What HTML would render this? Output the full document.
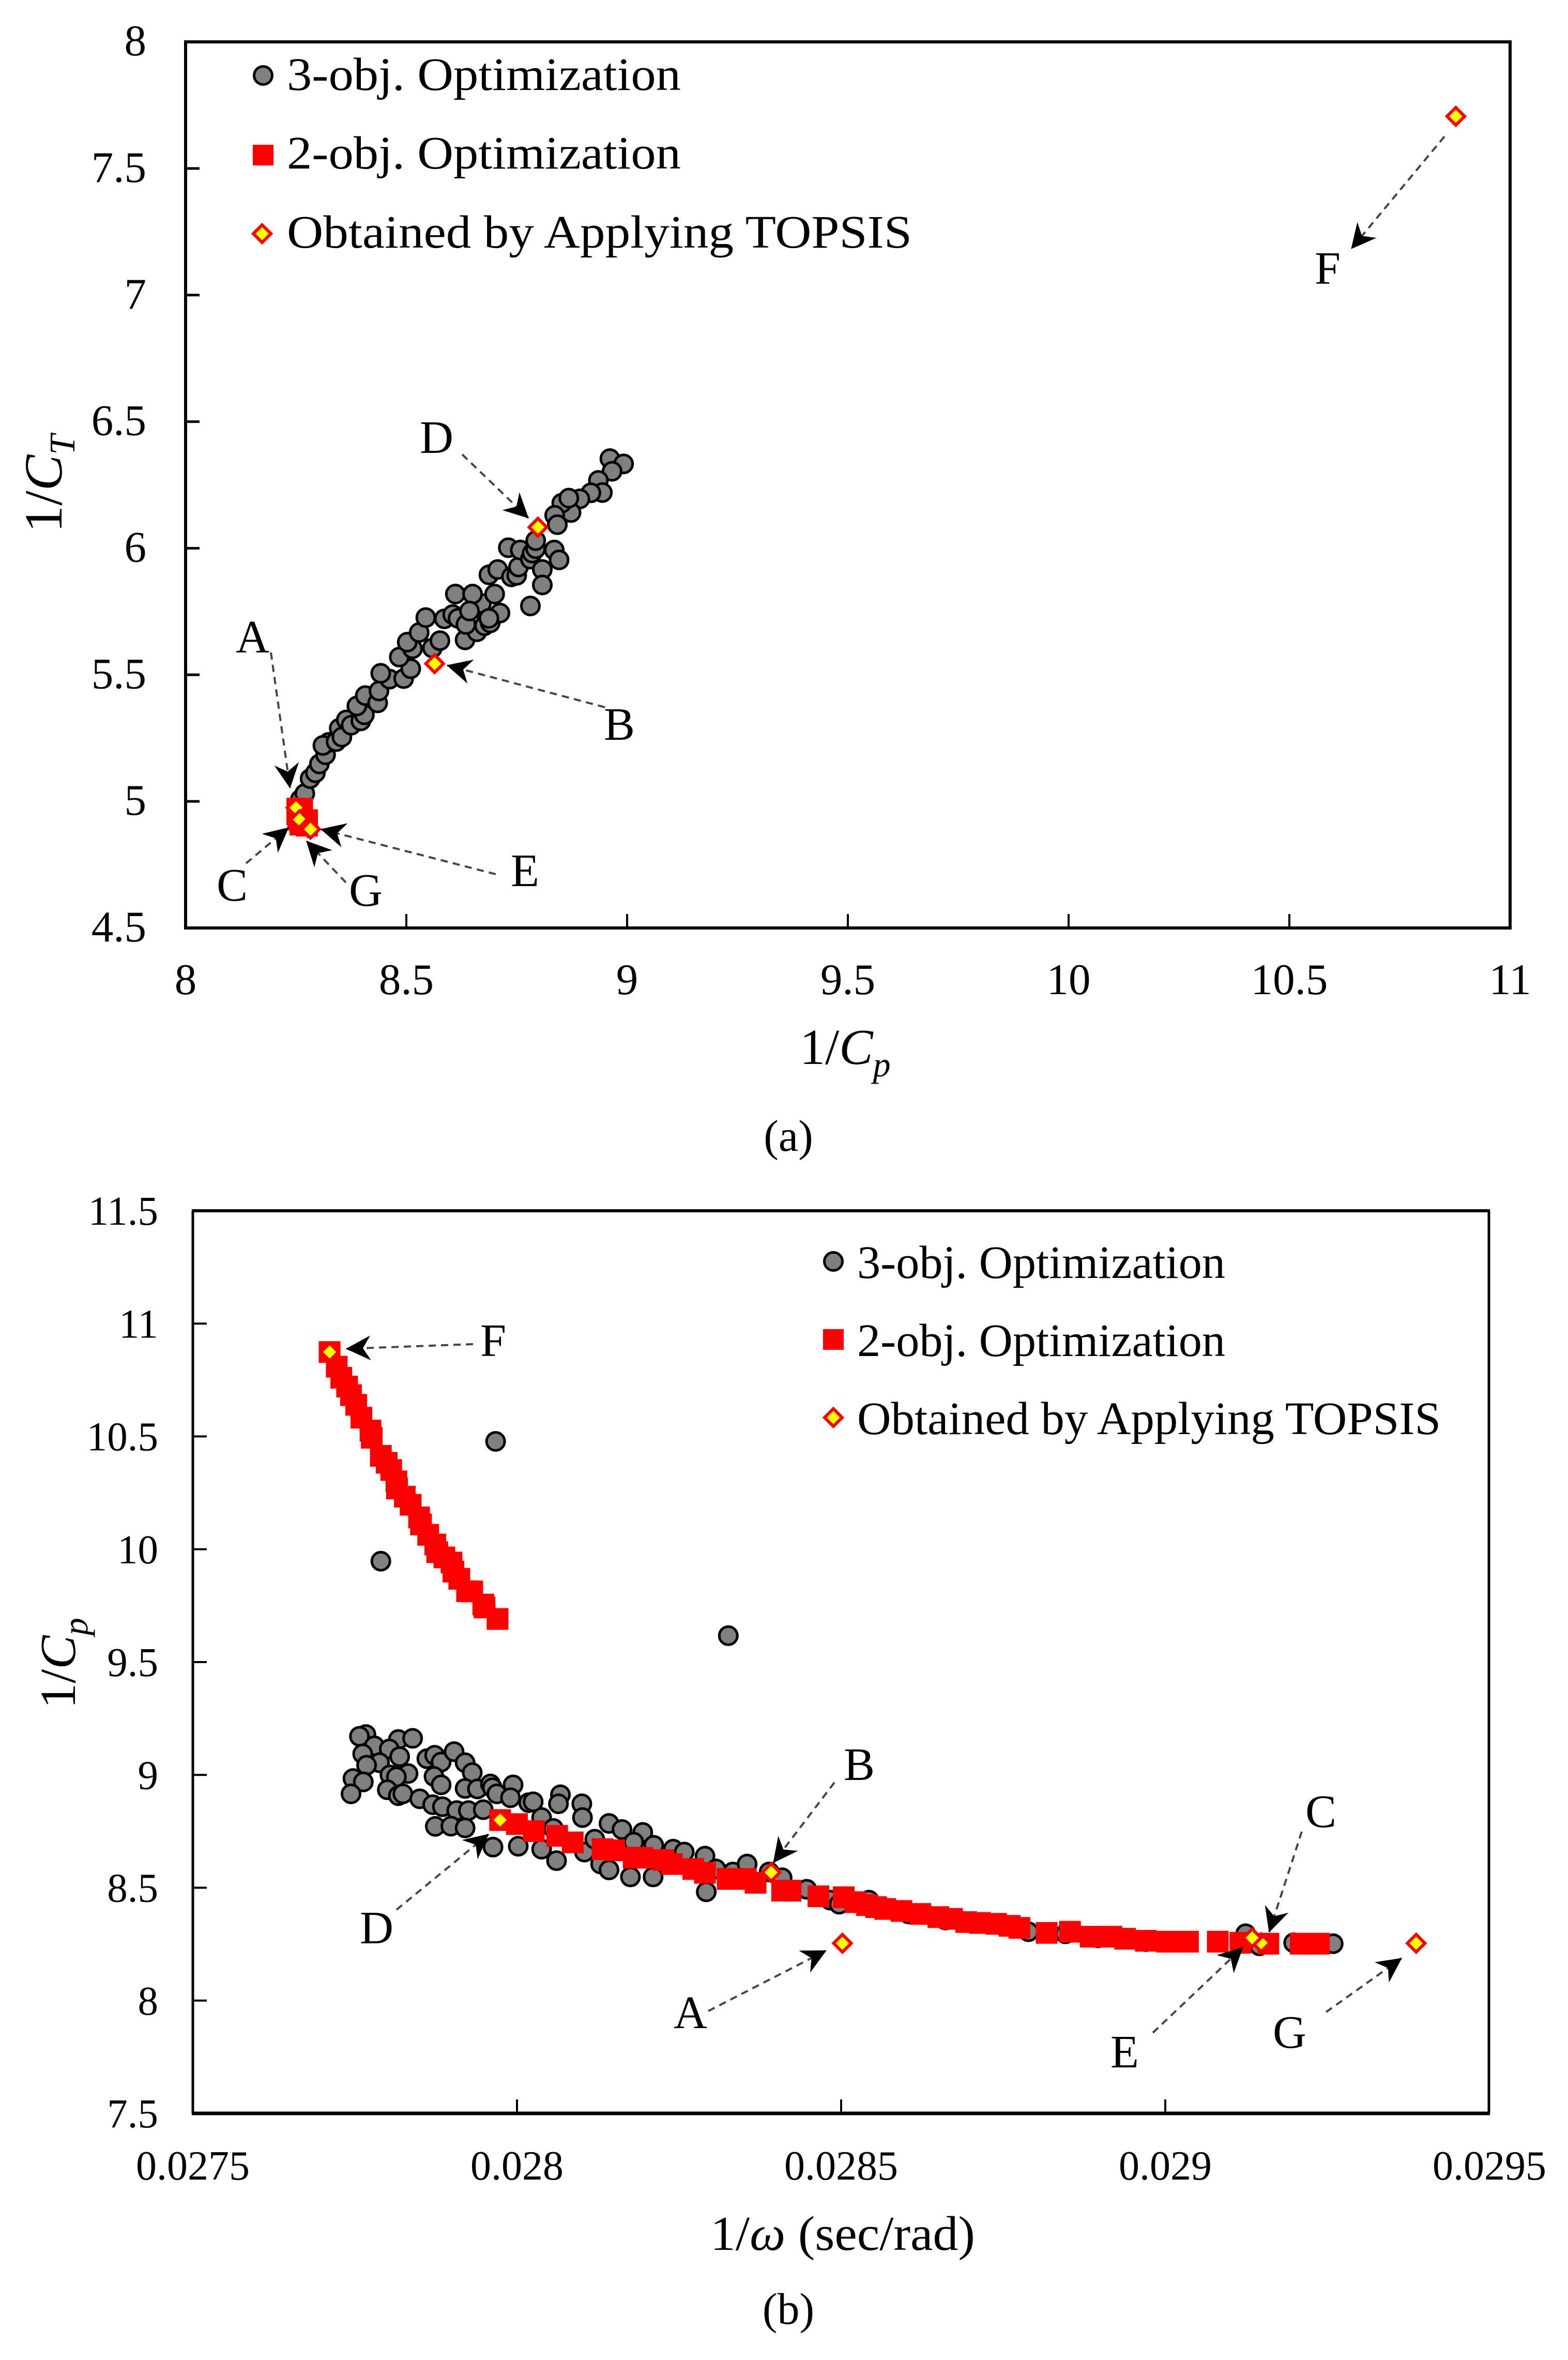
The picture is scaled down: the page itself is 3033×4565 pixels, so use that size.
<!DOCTYPE html>
<html lang="en">
<head>
<meta charset="utf-8">
<title>Pareto fronts: 3-obj and 2-obj optimization</title>
<style>
  html, body { margin: 0; padding: 0; background: #fff; }
  svg { display: block; }
  text { font-family: "Liberation Serif", serif; fill: #000; }
  .leader { stroke: #444; stroke-width: 4; stroke-dasharray: 14 10; fill: none; marker-end: url(#stealth); }
  .ann { font-size: 90px; }
  .legend { font-size: 90px; }
</style>
</head>
<body>
<svg id="figure" xmlns="http://www.w3.org/2000/svg" width="3033" height="4565" viewBox="0 0 3033 4565">
  <defs>
    <marker id="stealth" markerUnits="userSpaceOnUse" markerWidth="48" markerHeight="48" viewBox="0 0 48 48" refX="47" refY="24" orient="auto">
      <path d="M48,24 L0,0 L15,24 L0,48 Z" fill="#000"></path>
    </marker>
  </defs>
  <rect x="0" y="0" width="3033" height="4565" fill="#fff"></rect>

  <g id="chart-a">
    <rect x="359" y="81" width="2562" height="1714" fill="none" stroke="#000" stroke-width="6"></rect>
    <g id="a-ticks"></g>
    <g id="a-marks"></g>

    <g>
      <line class="leader" x1="524" y1="1262" x2="561" y2="1524"></line>
      <line class="leader" x1="894" y1="879" x2="1022" y2="1002"></line>
      <line class="leader" x1="1170" y1="1368" x2="865" y2="1287"></line>
      <line class="leader" x1="959" y1="1691" x2="621" y2="1604"></line>
      <line class="leader" x1="476" y1="1670" x2="558" y2="1601"></line>
      <line class="leader" x1="669" y1="1707" x2="593" y2="1627"></line>
      <line class="leader" x1="2794" y1="264" x2="2614" y2="481"></line>
      <text class="ann" x="456" y="1262">A</text>
      <text class="ann" x="812" y="876">D</text>
      <text class="ann" x="1168" y="1431">B</text>
      <text class="ann" x="988" y="1714">E</text>
      <text class="ann" x="419" y="1742">C</text>
      <text class="ann" x="675" y="1752">G</text>
      <text class="ann" x="2543" y="549">F</text>
    </g>

    <g>
      <circle cx="509" cy="146" r="17.5" fill="#808080" stroke="#000" stroke-width="5"></circle>
      <rect x="489" y="280" width="40" height="40" fill="#f00"></rect>
      <polygon points="507,435 524,452 507,469 490,452" fill="#ff0" stroke="#f00" stroke-width="6"></polygon>
      <text class="legend" x="555" y="174" textLength="762" lengthAdjust="spacingAndGlyphs">3-obj. Optimization</text>
      <text class="legend" x="555" y="326" textLength="762" lengthAdjust="spacingAndGlyphs">2-obj. Optimization</text>
      <text class="legend" x="555" y="479" textLength="1209" lengthAdjust="spacingAndGlyphs">Obtained by Applying TOPSIS</text>
    </g>

    <text transform="translate(119,1030) rotate(-90)" font-size="104">1/<tspan font-style="italic">C</tspan><tspan font-style="italic" font-size="70" dy="25">T</tspan></text>
    <text x="1547" y="2058" font-size="98">1/<tspan font-style="italic">C</tspan><tspan font-style="italic" font-size="68" dy="24">p</tspan></text>
    <text x="1525" y="2226" font-size="86" text-anchor="middle">(a)</text>
  </g>

  <g id="chart-b">
    <line x1="371" y1="2342" x2="2882" y2="2342" stroke="#000" stroke-width="6"></line>
    <line x1="371" y1="4088" x2="2882" y2="4088" stroke="#000" stroke-width="7"></line>
    <line x1="373" y1="2342" x2="373" y2="4088" stroke="#000" stroke-width="5"></line>
    <line x1="2880" y1="2342" x2="2880" y2="4088" stroke="#000" stroke-width="5"></line>
    <g id="b-ticks"></g>
    <g id="b-marks"></g>

    <g>
      <line class="leader" x1="915" y1="2600" x2="670" y2="2609"></line>
      <line class="leader" x1="1614" y1="3448" x2="1496" y2="3603"></line>
      <line class="leader" x1="2518" y1="3543" x2="2455" y2="3737"></line>
      <line class="leader" x1="2230" y1="3932" x2="2404" y2="3767"></line>
      <line class="leader" x1="2565" y1="3892" x2="2711" y2="3788"></line>
      <line class="leader" x1="1370" y1="3890" x2="1598" y2="3773"></line>
      <line class="leader" x1="767" y1="3694" x2="945" y2="3548"></line>
      <text class="ann" x="929" y="2623">F</text>
      <text class="ann" x="1632" y="3443">B</text>
      <text class="ann" x="2525" y="3534">C</text>
      <text class="ann" x="2148" y="3999">E</text>
      <text class="ann" x="2462" y="3961">G</text>
      <text class="ann" x="1303" y="3923">A</text>
      <text class="ann" x="696" y="3759">D</text>
    </g>

    <g>
      <circle cx="1612" cy="2440" r="17.5" fill="#808080" stroke="#000" stroke-width="5"></circle>
      <rect x="1592" y="2571" width="40" height="40" fill="#f00"></rect>
      <polygon points="1612,2725 1629,2742 1612,2759 1595,2742" fill="#ff0" stroke="#f00" stroke-width="6"></polygon>
      <text class="legend" x="1658" y="2472" textLength="712" lengthAdjust="spacingAndGlyphs">3-obj. Optimization</text>
      <text class="legend" x="1658" y="2623" textLength="712" lengthAdjust="spacingAndGlyphs">2-obj. Optimization</text>
      <text class="legend" x="1658" y="2774" textLength="1129" lengthAdjust="spacingAndGlyphs">Obtained by Applying TOPSIS</text>
    </g>

    <text transform="translate(145,3305) rotate(-90)" font-size="98">1/<tspan font-style="italic">C</tspan><tspan font-style="italic" font-size="68" dy="24">p</tspan></text>
    <text x="1374" y="4352" font-size="94" textLength="512" lengthAdjust="spacingAndGlyphs">1/<tspan font-style="italic">ω</tspan> (sec/rad)</text>
    <text x="1525" y="4495" font-size="86" text-anchor="middle">(b)</text>
  </g>
</svg>

<script>
// ---------- Chart (a) data: 1/Cp (x) vs 1/CT (y) ----------
const aThreeObjX = [8.260,8.270,8.282,8.294,8.303,8.317,8.324,8.311,8.341,8.348,8.354,8.364,8.375,8.397,8.405,8.388,8.407,8.435,8.438,8.462,8.442,8.494,8.510,8.484,8.514,8.502,8.529,8.544,8.586,8.605,8.617,8.559,8.576,8.633,8.660,8.677,8.690,8.635,8.665,8.670,8.611,8.650,8.700,8.712,8.687,8.643,8.687,8.707,8.738,8.750,8.754,8.731,8.758,8.781,8.785,8.793,8.793,8.808,8.808,8.781,8.835,8.846,8.961,8.992,8.966,8.935,8.944,8.918,8.893,8.873,8.852,8.868,8.836,8.842];
const aThreeObjY = [5.008,5.031,5.090,5.113,5.148,5.184,5.233,5.221,5.236,5.289,5.254,5.322,5.301,5.318,5.342,5.377,5.418,5.389,5.436,5.483,5.506,5.485,5.524,5.570,5.603,5.629,5.667,5.726,5.721,5.738,5.723,5.606,5.635,5.638,5.670,5.694,5.705,5.699,5.764,5.782,5.819,5.819,5.819,5.744,5.723,5.752,5.895,5.916,5.887,5.893,5.926,6.002,5.993,5.957,5.981,5.998,6.030,5.916,5.855,5.772,5.993,5.954,6.354,6.333,6.304,6.268,6.220,6.219,6.195,6.141,6.178,6.198,6.130,6.093];
const aTwoObjX = [8.253,8.253,8.255,8.260,8.270,8.275,8.275,8.260,8.264,8.264];
const aTwoObjY = [4.971,4.949,4.928,4.908,4.908,4.926,4.904,4.955,4.971,4.937];
const aTopsisX = [8.250,8.564,8.258,8.798,8.277,10.877,8.283];
const aTopsisY = [4.975,5.544,4.928,6.083,4.897,7.706,4.890];
const aXTicks = [8,8.5,9,9.5,10,10.5,11];
const aYTicks = [4.5,5,5.5,6,6.5,7,7.5,8];

// ---------- Chart (b) data: 1/omega (x) vs 1/Cp (y) ----------
const bThreeObjX = [0.027967,0.027790,0.028326,0.027767,0.027757,0.027780,0.027817,0.027839,0.027762,0.027803,0.027819,0.027788,0.027768,0.027747,0.027763,0.027744,0.027804,0.027832,0.027814,0.027800,0.027817,0.027824,0.027850,0.027870,0.027885,0.027861,0.027873,0.027883,0.027903,0.027920,0.027931,0.027872,0.027883,0.027920,0.027939,0.027959,0.027962,0.027969,0.027994,0.027990,0.027907,0.027925,0.027948,0.027874,0.027898,0.027920,0.028018,0.028025,0.027963,0.028002,0.028038,0.028038,0.028056,0.028067,0.028064,0.028100,0.028101,0.028061,0.028104,0.028120,0.028129,0.028142,0.028142,0.028162,0.028194,0.028175,0.028210,0.028180,0.028211,0.028241,0.028258,0.028290,0.028292,0.028307,0.028333,0.028355,0.028389,0.028409,0.028447,0.028483,0.028497,0.028543,0.028604,0.028661,0.028750,0.028789,0.028846,0.028896,0.028970,0.029124,0.029145,0.029198,0.029259];
const bThreeObjY = [10.478,9.947,9.617,9.179,9.171,9.129,9.157,9.162,9.093,9.115,9.081,9.054,9.043,8.984,8.969,8.916,9.000,9.006,8.991,8.934,8.908,8.916,8.894,8.868,8.859,9.072,9.087,9.057,9.103,9.054,9.010,8.993,8.956,8.940,8.938,8.960,8.943,8.916,8.956,8.899,8.842,8.842,8.846,8.772,8.773,8.765,8.877,8.881,8.680,8.684,8.671,8.811,8.763,8.912,8.872,8.872,8.811,8.620,8.658,8.715,8.605,8.579,8.785,8.758,8.745,8.548,8.548,8.702,8.688,8.671,8.658,8.640,8.482,8.583,8.570,8.605,8.570,8.544,8.493,8.445,8.427,8.445,8.384,8.357,8.331,8.305,8.296,8.278,8.261,8.296,8.243,8.256,8.252];
const bTwoObjX = [0.027711,0.027722,0.027729,0.027738,0.027744,0.027752,0.027760,0.027774,0.027776,0.027790,0.027799,0.027806,0.027814,0.027815,0.027827,0.027836,0.027849,0.027852,0.027863,0.027874,0.027877,0.027888,0.027899,0.027902,0.027911,0.027923,0.027931,0.027948,0.027950,0.027970,0.027974,0.028000,0.028026,0.028062,0.028086,0.028132,0.028150,0.028180,0.028186,0.028193,0.028226,0.028239,0.028272,0.028290,0.028325,0.028353,0.028368,0.028409,0.028422,0.028465,0.028504,0.028522,0.028540,0.028554,0.028568,0.028593,0.028622,0.028650,0.028671,0.028693,0.028714,0.028739,0.028760,0.028775,0.028817,0.028853,0.028885,0.028917,0.028938,0.028970,0.029003,0.029035,0.029081,0.029116,0.029159,0.029209,0.029237];
const bTwoObjY = [10.874,10.809,10.760,10.721,10.683,10.640,10.583,10.526,10.494,10.414,10.383,10.351,10.301,10.269,10.233,10.197,10.141,10.110,10.064,10.021,9.987,9.964,9.941,9.901,9.869,9.814,9.813,9.755,9.742,9.691,8.800,8.782,8.751,8.730,8.701,8.671,8.666,8.633,8.633,8.633,8.623,8.605,8.583,8.566,8.539,8.539,8.522,8.487,8.487,8.462,8.458,8.436,8.423,8.414,8.406,8.397,8.384,8.370,8.362,8.348,8.344,8.340,8.331,8.322,8.300,8.305,8.283,8.283,8.274,8.265,8.261,8.261,8.261,8.256,8.252,8.252,8.252];
const bTopsisX = [0.028502,0.028392,0.029148,0.027974,0.029134,0.027711,0.029387];
const bTopsisY = [8.254,8.568,8.256,8.800,8.278,10.874,8.254];
const bXTicks = [0.0275,0.028,0.0285,0.029,0.0295];
const bXTickLabels = ["0.0275","0.028","0.0285","0.029","0.0295"];
const bYTicks = [7.5,8,8.5,9,9.5,10,10.5,11,11.5];

// ---------- Axis functions ----------
function xA(v) { return 359 + (v - 8) * 854; }
function yA(v) { return 1795 - (v - 4.5) * 489.7; }
function xB(v) { return 373 + (v - 0.0275) * 1254000; }
function yB(v) { return 4088 - (v - 7.5) * 436.5; }

const NS = "http://www.w3.org/2000/svg";
const aTicks = document.getElementById("a-ticks");
const aMarks = document.getElementById("a-marks");
const bTicks = document.getElementById("b-ticks");
const bMarks = document.getElementById("b-marks");

function circleAt(parent, cx, cy) {
  const el = document.createElementNS(NS, "circle");
  
  
  el.setAttribute("cx", cx);
  el.setAttribute("cy", cy);
  el.setAttribute("r", 17.5);
  el.setAttribute("fill", "#808080");
  el.setAttribute("stroke", "#000");
  el.setAttribute("stroke-width", 5);
  parent.appendChild(el);
}
function squareAt(parent, cx, cy) {
  const el = document.createElementNS(NS, "rect");
  
  
  el.setAttribute("x", cx - 21);
  el.setAttribute("y", cy - 21);
  el.setAttribute("width", 42);
  el.setAttribute("height", 42);
  el.setAttribute("fill", "#f00");
  parent.appendChild(el);
}
function diamondAt(parent, cx, cy) {
  const el = document.createElementNS(NS, "polygon");
  
  
  el.setAttribute("points", [cx, cy - 17, cx + 17, cy, cx, cy + 17, cx - 17, cy].join(" "));
  el.setAttribute("fill", "#ff0");
  el.setAttribute("stroke", "#f00");
  el.setAttribute("stroke-width", 6);
  parent.appendChild(el);
}
function tickLine(parent, x1, y1, x2, y2, w) {
  const el = document.createElementNS(NS, "line");
  
  
  el.setAttribute("x1", x1);
  el.setAttribute("y1", y1);
  el.setAttribute("x2", x2);
  el.setAttribute("y2", y2);
  el.setAttribute("stroke", "#000");
  el.setAttribute("stroke-width", w);
  parent.appendChild(el);
}
function tickLabel(parent, x, y, anchor, size, str) {
  const el = document.createElementNS(NS, "text");
  
  
  el.setAttribute("x", x);
  el.setAttribute("y", y);
  el.setAttribute("text-anchor", anchor);
  el.setAttribute("font-size", size);
  el.textContent = str;
  parent.appendChild(el);
}

// ---------- Chart (a) drawing ----------
aXTicks.forEach(function (t, i) {
  if (i > 0 && i < aXTicks.length - 1) tickLine(aTicks, xA(t), yA(4.5), xA(t), yA(4.5) - 27, 4);
  tickLabel(aTicks, xA(t), 1923, "middle", 85, String(t));
});
aYTicks.forEach(function (t, i) {
  if (i > 0 && i < aYTicks.length - 1) tickLine(aTicks, xA(8), yA(t), xA(8) + 27, yA(t), 5);
  tickLabel(aTicks, 283, yA(t) + 26, "end", 85, String(t));
});
aThreeObjX.forEach(function (v, i) { circleAt(aMarks, xA(v), yA(aThreeObjY[i])); });
aTwoObjX.forEach(function (v, i) { squareAt(aMarks, xA(v), yA(aTwoObjY[i])); });
aTopsisX.forEach(function (v, i) { diamondAt(aMarks, xA(v), yA(aTopsisY[i])); });

// ---------- Chart (b) drawing ----------
bXTicks.forEach(function (t, i) {
  if (i > 0 && i < bXTicks.length - 1) tickLine(bTicks, xB(t), yB(7.5), xB(t), yB(7.5) - 27, 4);
  tickLabel(bTicks, xB(t), 4216, "middle", 80, bXTickLabels[i]);
});
bYTicks.forEach(function (t, i) {
  if (i > 0 && i < bYTicks.length - 1) tickLine(bTicks, xB(0.0275), yB(t), xB(0.0275) + 27, yB(t), 4);
  tickLabel(bTicks, 306, yB(t) + 27, "end", 79, String(t));
});
bThreeObjX.forEach(function (v, i) { circleAt(bMarks, xB(v), yB(bThreeObjY[i])); });
bTwoObjX.forEach(function (v, i) { squareAt(bMarks, xB(v), yB(bTwoObjY[i])); });
bTopsisX.forEach(function (v, i) { diamondAt(bMarks, xB(v), yB(bTopsisY[i])); });
</script>
</body>
</html>
